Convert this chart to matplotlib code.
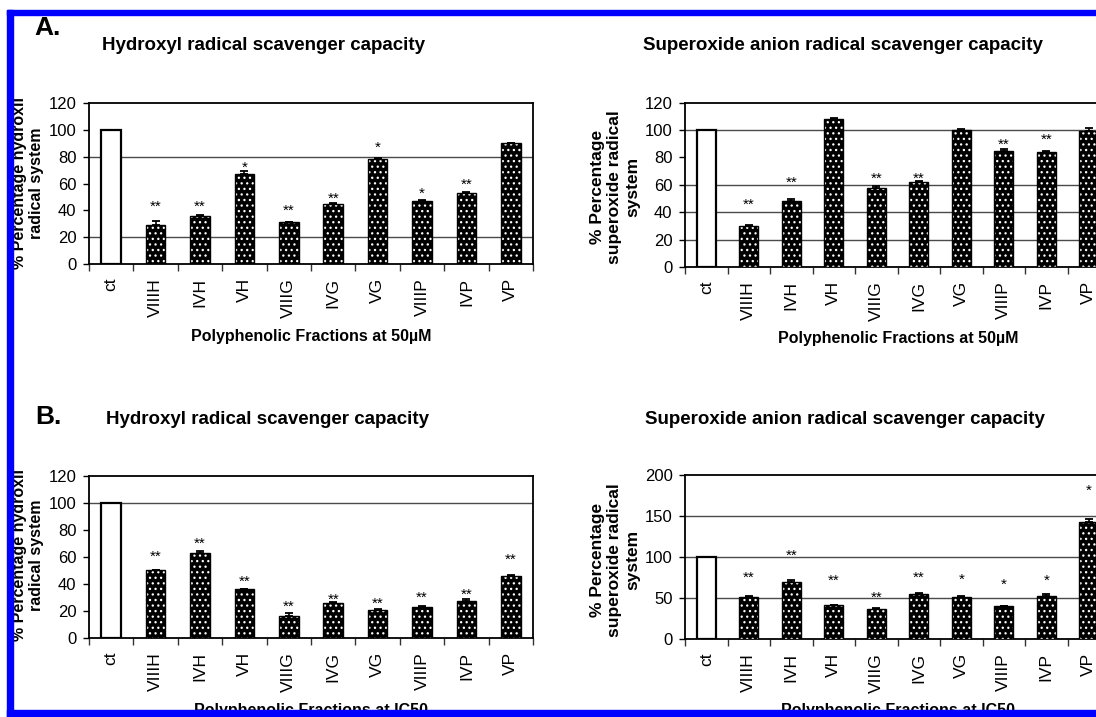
import numpy as np
import matplotlib
matplotlib.use('Agg')
import matplotlib.pyplot as plt
from matplotlib import font_manager
from matplotlib.patches import Rectangle

#==========================================================#
#   data                               #
#==========================================================#
categories = ['ct', 'VIIIH', 'IVH', 'VH', 'VIIIG', 'IVG', 'VG', 'VIIIP', 'IVP', 'VP']

# A. fractions at 50uM
hydroxyl_50 = [100, 29, 36, 67, 31, 45, 78, 47, 53, 90]
hydroxyl_50_err = [0, 3, 0.5, 2.5, 0.5, 0.5, 1, 0.5, 0.5, 0]
hydroxyl_50_sig = ['', '**', '**', '*', '**', '**', '*', '*', '**', '']
hydroxyl_50_sig_y = [0, 46, 46, 75, 43.5, 52.5, 90.5, 56, 62.5, 0]

superoxide_50 = [100, 30, 48, 108, 58, 62, 100, 85, 84, 99.5]
superoxide_50_err = [0, 1, 2, 1, 1, 1, 0.5, 1, 0.5, 2]
superoxide_50_sig = ['', '**', '**', '', '**', '**', '', '**', '**', '']
superoxide_50_sig_y = [0, 49, 65, 0, 68, 68, 0, 92.5, 96.5, 0]

# B. fractions at IC50
hydroxyl_ic50 = [100, 50, 63, 36, 16, 26, 21, 23, 27.5, 46]
hydroxyl_ic50_err = [0, 0.5, 1, 0.5, 2.5, 0.5, 0.5, 0.5, 1, 0.5]
hydroxyl_ic50_sig = [''] + ['**'] * 9
hydroxyl_ic50_sig_y = [0, 64, 73, 45.5, 27, 32, 29, 33.5, 35.5, 61.5]

superoxide_ic50 = [100, 51, 70, 41, 37, 55, 51, 40, 53, 143]
superoxide_ic50_err = [0, 1, 2, 0.5, 0.5, 1.5, 1, 0, 1.5, 3]
superoxide_ic50_sig = ['', '**', '**', '**', '**', '**', '*', '*', '*', '*']
superoxide_ic50_sig_y = [0, 80, 108, 77, 56.5, 81, 78, 72, 77, 186.5]

#==== fonts ====#
have = {f.name for f in font_manager.fontManager.ttflist}
fam = 'Liberation Sans' if 'Liberation Sans' in have else 'DejaVu Sans'
plt.rcParams['font.family'] = [fam, 'DejaVu Sans']
plt.rcParams['hatch.color'] = 'white'
plt.rcParams['hatch.linewidth'] = 0.9

W, H = 1096, 717
fig = plt.figure(figsize=(W / 100, H / 100), dpi=100)


def box(l, t, r, b):
    # pixel box -> figure fraction
    return [l / W, 1 - b / H, (r - l) / W, (b - t) / H]


def ftext(x, y, s, **kw):
    return fig.text(x / W, 1 - y / H, s, **kw)


def draw_panel(rect, vals, err, sig, sig_y, ymax, ystep, grid):
    ax = fig.add_axes(rect)
    x = np.arange(len(categories))
    for lev in grid:
        ax.axhline(lev, color='#4a4a4a', lw=1.0, zorder=1)
    ax.bar(x[0], vals[0], 0.44, facecolor='white', edgecolor='black', lw=1.6, zorder=3)
    ax.bar(x[1:], vals[1:], 0.44, facecolor='black', hatch='...', lw=0, zorder=3)
    ax.bar(x[1:], vals[1:], 0.44, fill=False, edgecolor='black', lw=1.0, zorder=4)
    ax.errorbar(x, vals, yerr=[np.zeros(len(err)), err], fmt='none', ecolor='black',
                elinewidth=1.2, capsize=3, capthick=1.3, zorder=5)
    for i, s in enumerate(sig):
        if s:
            ax.annotate(s, (x[i], sig_y[i]), xytext=(0, -3.5), textcoords='offset points',
                        ha='center', va='center', fontsize=11)
    ax.set_xlim(-0.5, len(categories) - 0.5)
    ax.set_ylim(0, ymax)
    ax.set_yticks(np.arange(0, ymax + 1, ystep))
    ax.set_xticks(np.arange(-0.5, len(categories), 1))
    ax.set_xticklabels([])
    ax.set_xticks(x, minor=True)
    ax.set_xticklabels(categories, minor=True, rotation=90, fontsize=12.5)
    ax.tick_params(axis='x', which='major', length=5, width=1, direction='out', color='#333333')
    ax.tick_params(axis='x', which='minor', length=0, pad=10)
    ax.tick_params(axis='y', length=4, width=1, pad=5, labelsize=12)
    for sp in ax.spines.values():
        sp.set_linewidth(1.3)
    return ax


# A. left / right
draw_panel(box(89, 103, 533, 264), hydroxyl_50, hydroxyl_50_err, hydroxyl_50_sig,
           hydroxyl_50_sig_y, 120, 20, [20, 80])
draw_panel(box(685, 102.7, 1110, 267), superoxide_50, superoxide_50_err, superoxide_50_sig,
           superoxide_50_sig_y, 120, 20, [20, 40, 60, 100])
# B. left / right
draw_panel(box(89, 475.7, 533, 638), hydroxyl_ic50, hydroxyl_ic50_err, hydroxyl_ic50_sig,
           hydroxyl_ic50_sig_y, 120, 20, [100])
draw_panel(box(685, 475, 1110, 639), superoxide_ic50, superoxide_ic50_err, superoxide_ic50_sig,
           superoxide_ic50_sig_y, 200, 50, [50, 100, 150])

#==== panel letters, titles, axis labels ====#
ftext(48, 28, 'A.', fontsize=19, fontweight='bold', ha='center', va='center')
ftext(48, 417, 'B.', fontsize=19, fontweight='bold', ha='center', va='center')

ftext(263, 46, 'Hydroxyl radical scavenger capacity', fontsize=13.5, fontweight='bold', ha='center', va='center')
ftext(843, 46, 'Superoxide anion radical scavenger capacity', fontsize=13.5, fontweight='bold', ha='center', va='center')
ftext(267, 420, 'Hydroxyl radical scavenger capacity', fontsize=13.5, fontweight='bold', ha='center', va='center')
ftext(845, 419, 'Superoxide anion radical scavenger capacity', fontsize=13.5, fontweight='bold', ha='center', va='center')

ylab_h = '% Percentage hydroxil\nradical system'
ylab_s = '% Percentage\nsuperoxide radical\nsystem'
ftext(28, 183, ylab_h, fontsize=11.5, fontweight='bold', rotation=90, ha='center', va='center', multialignment='center')
ftext(28, 555, ylab_h, fontsize=11.5, fontweight='bold', rotation=90, ha='center', va='center', multialignment='center')
ftext(615, 187, ylab_s, fontsize=12.5, fontweight='bold', rotation=90, ha='center', va='center', multialignment='center')
ftext(615, 560, ylab_s, fontsize=12.5, fontweight='bold', rotation=90, ha='center', va='center', multialignment='center')

ftext(311, 336, 'Polyphenolic Fractions at 50\u00b5M', fontsize=11.5, fontweight='bold', ha='center', va='center')
ftext(898, 338, 'Polyphenolic Fractions at 50\u00b5M', fontsize=11.5, fontweight='bold', ha='center', va='center')
ftext(311, 710, 'Polyphenolic Fractions at IC50', fontsize=11.5, fontweight='bold', ha='center', va='center')
ftext(898, 711, 'Polyphenolic Fractions at IC50', fontsize=11.5, fontweight='bold', ha='center', va='center')

#==== blue frame of the screenshot ====#
blue = '#0000ff'
fig.add_artist(Rectangle((7 / W, 1 - 15 / H), 1, 5 / H, transform=fig.transFigure, color=blue, zorder=10))
fig.add_artist(Rectangle((7 / W, 0), 6 / W, 1 - 10 / H, transform=fig.transFigure, color=blue, zorder=10))
fig.add_artist(Rectangle((7 / W, 0), 1, 7 / H, transform=fig.transFigure, color=blue, zorder=10))

fig.savefig('out.png', dpi=100, facecolor='white')
